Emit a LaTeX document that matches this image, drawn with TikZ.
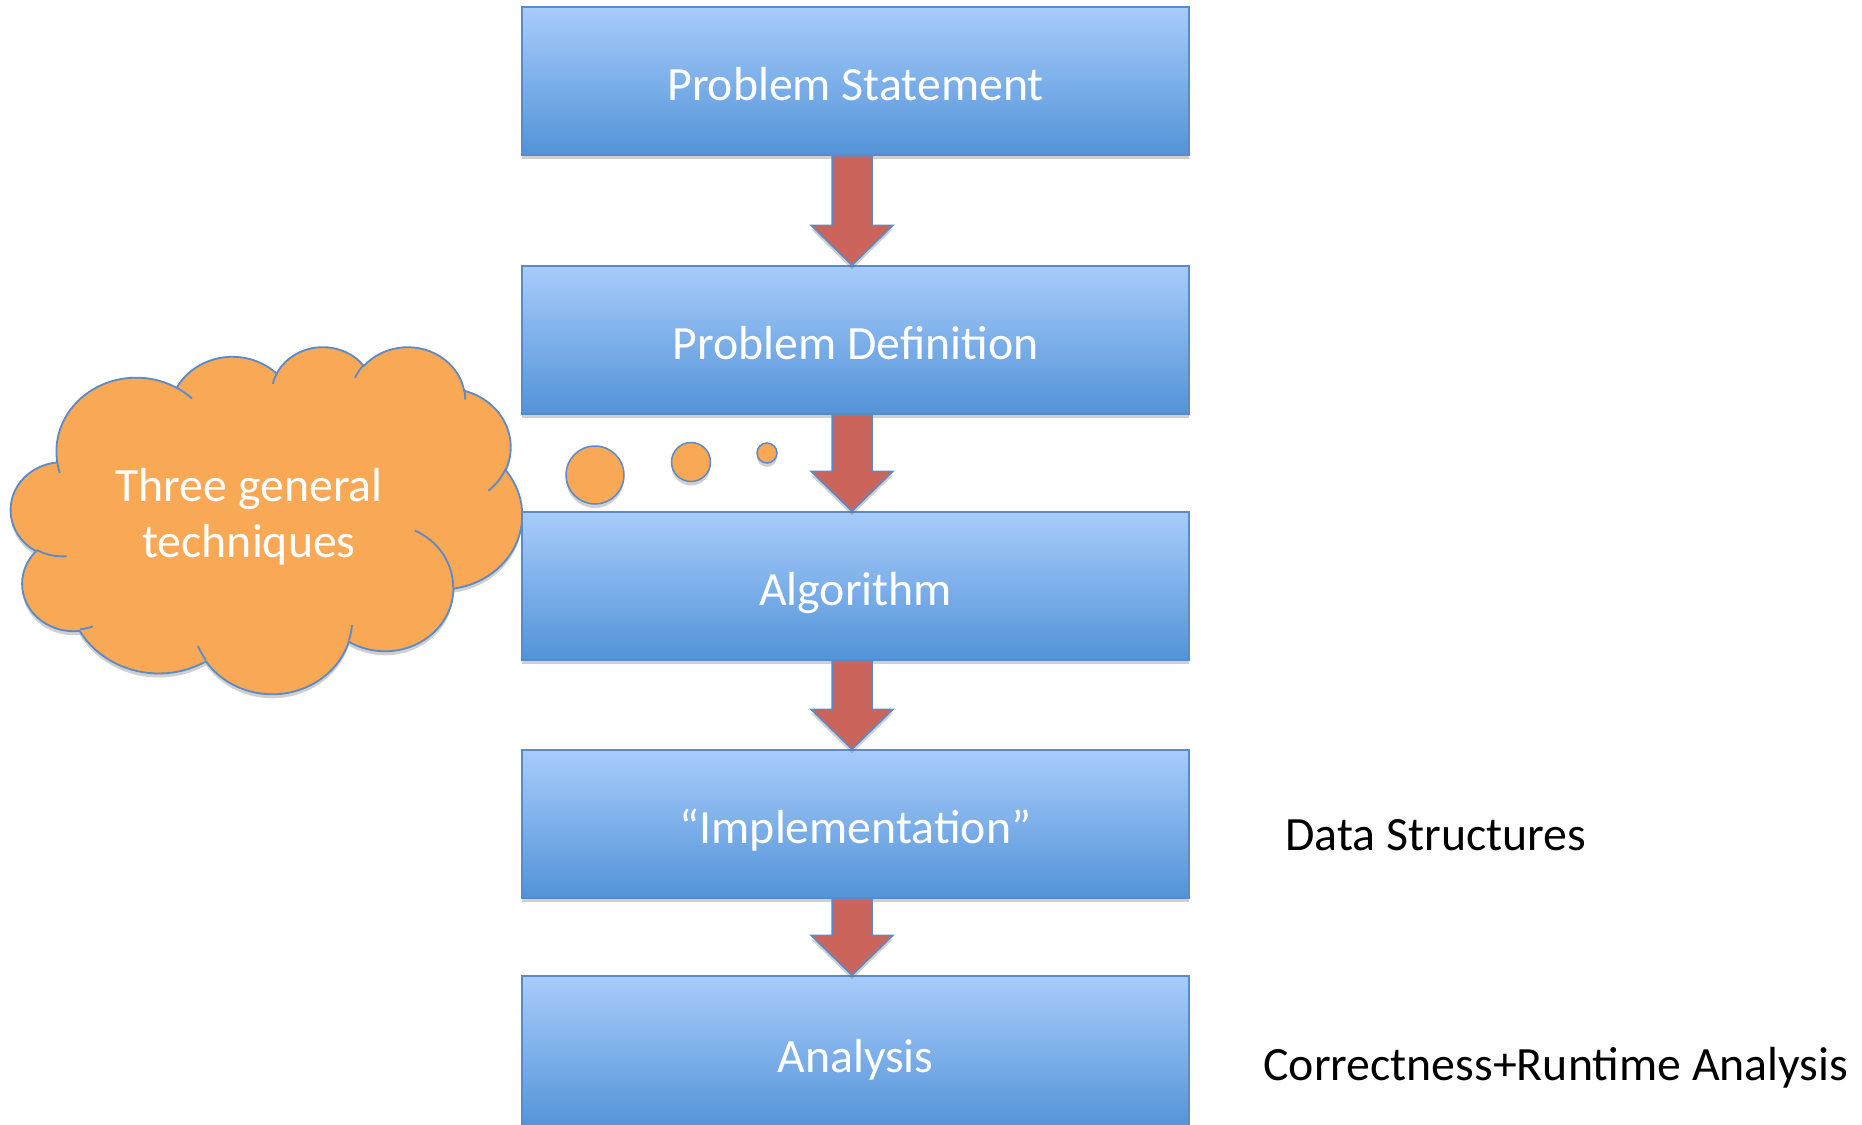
\documentclass[tikz,border=0pt]{standalone}
\usepackage{fontspec}
\setmainfont{Carlito}
\usetikzlibrary{shadows,calc}
\definecolor{boxtop}{HTML}{A7CCFB}
\definecolor{boxbot}{HTML}{5393D8}
\definecolor{boxline}{HTML}{5A8BC8}
\definecolor{arrowfill}{HTML}{CB655C}
\definecolor{cloudfill}{HTML}{F9A856}
% arc of the PowerPoint cloud: name, wR, hR, visual start angle, sweep (deg)
\newcommand\defarc[5]{%
  \pgfmathsetmacro\tmpa{atan2((#2)*sin(#4),(#3)*cos(#4))}%
  \pgfmathsetmacro\tmpb{atan2((#2)*sin((#4)+(#5)),(#3)*cos((#4)+(#5)))}%
  \pgfmathsetmacro\tmpb{\tmpb+360*(\tmpb<\tmpa)}%
  \edef\tmpc{\noexpand\tikzset{#1/.style={start angle=\tmpa, end angle=\tmpb, x radius=#2, y radius=#3}}}%
  \tmpc}
\newcommand\flowarrow[2]{%
  \draw[arrowsty] let \p1=(#1.south), \p2=(#2.north) in
    (\x1-11.75pt,\y1) -- (\x1-11.75pt,\y2+20pt) -- (\x1-22.25pt,\y2+20pt) --
    (\x1-1.75pt,\y2) -- (\x1+18.75pt,\y2+20pt) -- (\x1+8.25pt,\y2+20pt) --
    (\x1+8.25pt,\y1) -- cycle;}
\begin{document}
\begin{tikzpicture}[x=0.5pt,y=-0.5pt,
  softshadow/.style={drop shadow={opacity=0.3,shadow xshift=0pt,shadow yshift=-2pt,fill=black!60}},
  stepbox/.style={draw=boxline,line width=0.75pt,top color=boxtop,bottom color=boxbot,
    minimum width=333.5pt,minimum height=74pt,inner sep=0pt,text=white,
    font=\fontsize{23.9}{28}\selectfont,text height=24pt,text depth=5pt,softshadow},
  arrowsty/.style={draw=boxline,line width=0.75pt,fill=arrowfill,line join=miter,softshadow},
  bubble/.style={circle,draw=boxline,line width=0.75pt,fill=cloudfill,inner sep=0pt,softshadow},
  cloudsty/.style={draw=boxline,line width=0.9pt,fill=cloudfill,softshadow},
  cloudline/.style={draw=boxline,line width=0.9pt},
  sidetext/.style={anchor=base west,inner sep=0pt,font=\fontsize{23.9}{28}\selectfont,text=black}]
\useasboundingbox (0,0) rectangle (1862,1124);
\fill[white] (0,0) rectangle (1862,1124);

% cloud arcs
\defarc{caa}{67.53}{91.90}{-190.4875}{123.7805}
\defarc{cab}{53.33}{72.67}{-144.1024}{89.9452}
\defarc{cac}{43.65}{59.45}{-145.8079}{99.7230}
\defarc{cad}{48.57}{65.95}{-130.9861}{117.2417}
\defarc{cae}{53.33}{72.73}{-78.7089}{109.0269}
\defarc{caf}{67.75}{92.20}{-46.2673}{130.2690}
\defarc{cag}{57.85}{78.67}{0.6250}{114.0333}
\defarc{cah}{67.52}{92.15}{22.4516}{115.1726}
\defarc{cai}{77.20}{105.43}{66.2426}{75.7110}
\defarc{caj}{43.60}{59.18}{-274.9421}{146.7356}
\defarc{cak}{43.45}{59.45}{-246.8285}{152.5189}
\defarc{cia}{43.45}{59.45}{86.7420}{26.4295}
\defarc{cib}{43.60}{59.18}{73.6105}{11.4475}
\defarc{cic}{67.52}{92.15}{137.6242}{14.0811}
\defarc{cid}{67.52}{92.15}{6.4533}{15.9984}
\defarc{cie}{57.85}{78.67}{-70.2924}{70.9174}
\defarc{cif}{53.33}{72.73}{30.3180}{27.7515}
\defarc{cig}{48.57}{65.95}{-13.7443}{14.8589}
\defarc{cih}{48.57}{65.95}{-149.1815}{18.1954}
\defarc{cii}{43.65}{59.45}{-163.4943}{17.6864}
\defarc{cij}{67.53}{91.90}{-66.7070}{12.3194}
\defarc{cik}{67.53}{91.90}{157.6544}{11.8582}

\begin{scope}[shift={(11,346)},x=0.59144pt,y=-0.40162pt]
  \path[cloudsty] (39.00,143.70) arc[caa] arc[cab] arc[cac] arc[cad] arc[cae]
    arc[caf] arc[cag] arc[cah] arc[cai] arc[caj] arc[cak] -- cycle;
  \path[cloudline] (46.93,261.77) arc[cia] (69.28,348.99) arc[cib]
    (164.78,390.90) arc[cic] (288.27,347.51) arc[cid] (341.29,229.54) arc[cie]
    (417.98,153.54) arc[cif] (383.24,54.26) arc[cig] (290.78,39.52) arc[cih]
    (221.41,47.20) arc[cii] (140.00,51.92) arc[cij] (41.27,157.89) arc[cik];
\end{scope}
\node[align=center,text=white,inner sep=0pt,font=\fontsize{23.9}{28}\selectfont] (ct) at (249,517) {Three general\\techniques};

% thought bubbles
\node[bubble,minimum size=29pt] (c1) at (595,475) {};
\node[bubble,minimum size=19.5pt] (c2) at (691,462) {};
\node[bubble,minimum size=10pt] (c3) at (767,453) {};

% boxes
\node[stepbox] (b1) at (855.5,81) {Problem Statement};
\node[stepbox] (b2) at (855.5,340) {Problem Definition};
\node[stepbox] (b3) at (855.5,586) {Algorithm};
\node[stepbox] (b4) at (855.5,824) {“Implementation”};
\node[stepbox,minimum height=77pt] (b5) at (855.5,1053) {Analysis};

% arrows
\flowarrow{b1}{b2}
\flowarrow{b2}{b3}
\flowarrow{b3}{b4}
\flowarrow{b4}{b5}

% side labels
\node[sidetext] (ds) at (1285,850) {Data Structures};
\node[sidetext] (cr) at (1263,1080) {Correctness+Runtime Analysis};
\end{tikzpicture}
\end{document}
